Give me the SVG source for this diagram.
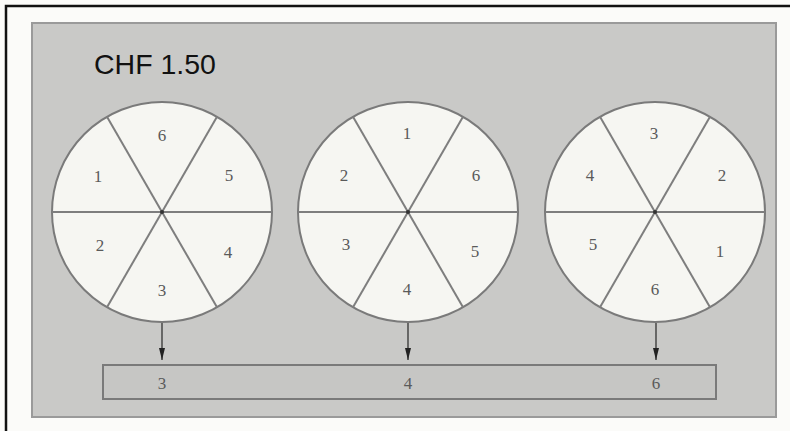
<svg xmlns="http://www.w3.org/2000/svg" width="790" height="431" viewBox="0 0 790 431">
<style>
.wheel{fill:#f6f6f2;stroke:#7a7a7a;stroke-width:2}
.spoke{stroke:#7e7e7e;stroke-width:2;fill:none}
.num{font-family:"Liberation Serif","DejaVu Serif",serif;font-size:17px;fill:#5a5a5a;text-anchor:middle;dominant-baseline:central}
.conn{stroke:#333;stroke-width:1.3;fill:none}
</style>
<defs>
<marker id="ah" markerWidth="12" markerHeight="7" refX="12" refY="3" orient="auto" markerUnits="userSpaceOnUse" viewBox="0 0 12 6">
<path d="M0,0 L12,3 L0,6 Z" fill="#222"/>
</marker>
<g id="spokes">
<line class="spoke" x1="-110" y1="0" x2="110" y2="0"/>
<line class="spoke" x1="-55" y1="-95.3" x2="55" y2="95.3"/>
<line class="spoke" x1="55" y1="-95.3" x2="-55" y2="95.3"/>
<circle r="2" fill="#333"/>
</g>
</defs>
<rect x="0" y="0" width="790" height="431" fill="#fbfbf9"/>
<path d="M6,431 L6,6 L790,6" fill="none" stroke="#111" stroke-width="2.5"/>
<rect x="32" y="23" width="744" height="394" fill="#c9c9c7" stroke="#9a9a9a" stroke-width="2"/>
<text x="94" y="74" font-family="Liberation Sans, Arial, sans-serif" font-size="28.5" fill="#111">CHF 1.50</text>

<g id="wheel1">
<circle class="wheel" cx="162" cy="212" r="110"/>
<use href="#spokes" x="162" y="212"/>
<text class="num" x="162" y="135">6</text>
<text class="num" x="98" y="176">1</text>
<text class="num" x="229" y="175">5</text>
<text class="num" x="100" y="245">2</text>
<text class="num" x="228" y="252">4</text>
<text class="num" x="162" y="290">3</text>
</g>
<g id="wheel2">
<circle class="wheel" cx="408" cy="212" r="110"/>
<use href="#spokes" x="408" y="212"/>
<text class="num" x="407" y="133">1</text>
<text class="num" x="344" y="175">2</text>
<text class="num" x="476" y="175">6</text>
<text class="num" x="346" y="244">3</text>
<text class="num" x="475" y="251">5</text>
<text class="num" x="407" y="289">4</text>
</g>
<g id="wheel3">
<circle class="wheel" cx="655" cy="212" r="110"/>
<use href="#spokes" x="655" y="212"/>
<text class="num" x="654" y="133">3</text>
<text class="num" x="590" y="175">4</text>
<text class="num" x="722" y="175">2</text>
<text class="num" x="593" y="244">5</text>
<text class="num" x="720" y="251">1</text>
<text class="num" x="655" y="289">6</text>
</g>
<g id="result">
<rect x="103" y="365" width="613" height="34" fill="#c6c6c4" stroke="#7a7a7a" stroke-width="2"/>
<text class="num" x="162" y="383">3</text>
<text class="num" x="408" y="383">4</text>
<text class="num" x="656" y="383">6</text>
</g>
<g id="connectors">
<line class="conn" x1="162" y1="323" x2="162" y2="360" marker-end="url(#ah)"/>
<line class="conn" x1="408" y1="323" x2="408" y2="360" marker-end="url(#ah)"/>
<line class="conn" x1="656" y1="323" x2="656" y2="360" marker-end="url(#ah)"/>
</g>
</svg>
